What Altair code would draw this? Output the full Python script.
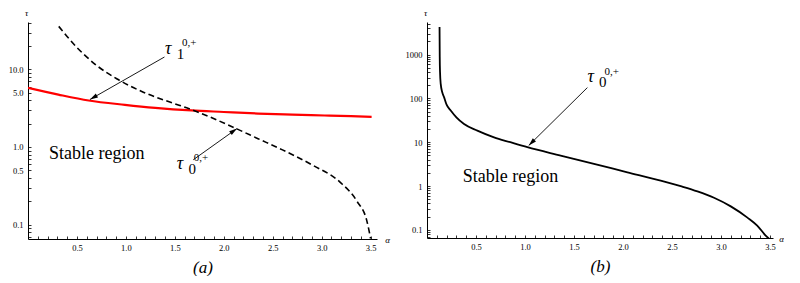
import math
import altair as alt
import pandas as pd

FONT = "Times New Roman, Liberation Serif, DejaVu Serif, serif"

# ---------------- panel (a) data ----------------
alpha_t1 = [0.0, 0.31, 0.62, 0.99, 1.30, 1.67, 2.00, 2.35, 2.70, 3.03, 3.30, 3.51]
tau_t1 = [5.8, 4.75, 3.98, 3.5, 3.2, 2.96, 2.83, 2.7, 2.62, 2.55, 2.5, 2.45]

alpha_t0a = [0.314, 0.497, 0.70, 0.906, 1.178, 1.484, 1.62, 1.72, 2.13, 2.35, 2.574, 2.91, 3.19, 3.36, 3.46, 3.50]
tau_t0a = [36, 19.4, 11.3, 7.6, 5.1, 3.67, 3.2, 2.87, 1.72, 1.28, 0.95, 0.58, 0.35, 0.20, 0.113, 0.066]

# ---------------- panel (b) data ----------------
alpha_t0b = [0.128, 0.130, 0.133, 0.140, 0.155, 0.174, 0.200, 0.242, 0.300, 0.378, 0.514, 0.684,
             0.850, 1.024, 1.364, 1.704, 2.045, 2.385, 2.589, 2.760, 2.929, 3.100, 3.270, 3.370,
             3.456, 3.500]
tau_t0b = [4300, 900, 400, 215, 140, 107, 72, 53, 37, 26, 18.4, 12.9,
           10.0, 7.7, 4.95, 3.2, 2.06, 1.33, 0.99, 0.753, 0.54, 0.343, 0.19, 0.125,
           0.074, 0.06]

# ---------------- ticks ----------------
x_label_vals = [0.5, 1.0, 1.5, 2.0, 2.5, 3.0, 3.5]
x_tick_vals = [0.1, 0.2, 0.3, 0.4, 0.5, 0.6, 0.7, 0.8, 0.9, 1.0, 1.1, 1.2, 1.3, 1.4, 1.5, 1.6, 1.7,
               1.8, 1.9, 2.0, 2.1, 2.2, 2.3, 2.4, 2.5, 2.6, 2.7, 2.8, 2.9, 3.0, 3.1, 3.2, 3.3, 3.4, 3.5]
ya_label_vals = [0.1, 0.5, 1.0, 5.0, 10.0]
yb_label_vals = [0.1, 1, 10, 100, 1000]
y_minor_base = [0.07, 0.08, 0.09, 0.1, 0.2, 0.3, 0.4, 0.5, 0.6, 0.7, 0.8, 0.9,
                1, 2, 3, 4, 5, 6, 7, 8, 9, 10, 20, 30, 40, 50, 60, 70, 80, 90,
                100, 200, 300, 400, 500, 600, 700, 800, 900,
                1000, 2000, 3000, 4000, 5000]

# ---------------- annotations ----------------
arr_a = dict(a0=[1.394, 1.688], t0=[14.5, 0.684], a1=[0.633, 2.135], t1=[4.1, 1.73])
lab_a = dict(a=[1.399, 1.519], t=[15.9, 0.524], sub=["1", "0"], sup=["0,+", "0,+"])
stab_a = dict(a=[0.215], t=[0.705], txt=["Stable region"])

arr_b = dict(a0=[1.637], t0=[177.0], a1=[1.038], t1=[8.4])
lab_b = dict(a=[1.637], t=[233.0], sub=["0"], sup=["0,+"])
stab_b = dict(a=[0.364], t=[1.215], txt=["Stable region"])

ARROW = "M0,0L-0.28,1L0.28,1Z"


def panel(lines, arrows, labels, stable, xmax, tmin, tmax, W, H,
          ylabels, yfmt, title, alpha_dx):
    xs = alt.Scale(domain=[0, xmax], nice=False, zero=False)
    ys = alt.Scale(type="log", domain=[tmin, tmax], nice=False)
    yminor = [v for v in y_minor_base if tmin <= v <= tmax]

    main_x = alt.Axis(orient="bottom", values=x_label_vals, format=".1f", ticks=False,
                      domain=True, domainColor="black", domainWidth=1, grid=False,
                      labelFont=FONT, labelFontSize=8.5, labelColor="black", labelPadding=4,
                      title=title, titleFont=FONT, titleFontSize=17, titleFontStyle="italic",
                      titleFontWeight="normal", titleColor="black", titlePadding=8)
    main_y = alt.Axis(orient="left", values=ylabels, format=yfmt, ticks=False,
                      domain=True, domainColor="black", domainWidth=1, grid=False,
                      labelFont=FONT, labelFontSize=8.5, labelColor="black", labelPadding=5,
                      title="τ", titleAngle=0, titleX=-2, titleY=-7, titleAlign="center",
                      titleBaseline="alphabetic", titleFont=FONT, titleFontSize=9,
                      titleFontStyle="italic", titleFontWeight="normal", titleColor="black")
    tick_x = alt.Axis(orient="top", offset=-H, values=x_tick_vals, labels=False, domain=False,
                      ticks=True, tickSize=3, tickColor="black", tickWidth=0.8, grid=False,
                      title="α", titleX=W + alpha_dx, titleY=0, titleAngle=0, titleAlign="center",
                      titleBaseline="middle", titleFont=FONT, titleFontSize=9,
                      titleFontStyle="italic", titleFontWeight="normal", titleColor="black")
    tick_y = alt.Axis(orient="right", offset=-W, values=yminor, labels=False, domain=False,
                      ticks=True, tickSize=3, tickColor="black", tickWidth=0.8, grid=False,
                      title=None)

    layers = []
    first = True
    for (al, ta, style) in lines:
        df = pd.DataFrame({"a": al, "t": ta})
        if first:
            xa, ya = main_x, main_y
            first = False
        else:
            xa, ya = None, None
        layers.append(
            alt.Chart(df).mark_line(clip=True, interpolate="monotone", **style).encode(
                x=alt.X("a:Q", scale=xs, axis=xa),
                y=alt.Y("t:Q", scale=ys, axis=ya),
            )
        )

    # arrows
    L = math.log10(tmax) - math.log10(tmin)
    angs = []
    for a0, t0, a1, t1 in zip(arrows["a0"], arrows["t0"], arrows["a1"], arrows["t1"]):
        dx = (a1 - a0) / xmax * W
        dy = -(math.log10(t1) - math.log10(t0)) / L * H
        angs.append(math.degrees(math.atan2(dx, -dy)) % 360)
    adf = pd.DataFrame(arrows)
    adf["ang"] = angs
    layers.append(
        alt.Chart(adf).mark_rule(color="black", strokeWidth=0.9).encode(
            x=alt.X("a0:Q", scale=xs, axis=tick_x),
            y=alt.Y("t0:Q", scale=ys, axis=tick_y),
            x2="a1:Q", y2="t1:Q",
        )
    )
    layers.append(
        alt.Chart(adf).mark_point(shape=ARROW, filled=True, size=256, color="black",
                                  opacity=1, strokeWidth=0).encode(
            x=alt.X("a1:Q", scale=xs, axis=None),
            y=alt.Y("t1:Q", scale=ys, axis=None),
            angle=alt.Angle("ang:Q", scale=None),
        )
    )

    ldf = pd.DataFrame(labels)
    base = alt.Chart(ldf).encode(x=alt.X("a:Q", scale=xs, axis=None),
                                 y=alt.Y("t:Q", scale=ys, axis=None))
    layers.append(base.mark_text(text="τ", font=FONT, fontSize=18, fontStyle="italic",
                                 align="left", baseline="alphabetic", color="black"))
    layers.append(base.mark_text(font=FONT, fontSize=15, align="left", baseline="alphabetic",
                                 color="black", dx=11.7, dy=5).encode(text="sub:N"))
    layers.append(base.mark_text(font=FONT, fontSize=11, align="left", baseline="alphabetic",
                                 color="black", dx=17, dy=-7.5).encode(text="sup:N"))

    sdf = pd.DataFrame(stable)
    layers.append(
        alt.Chart(sdf).mark_text(font=FONT, fontSize=18, align="left", baseline="alphabetic",
                                 color="black").encode(
            x=alt.X("a:Q", scale=xs, axis=None),
            y=alt.Y("t:Q", scale=ys, axis=None),
            text="txt:N",
        )
    )

    return alt.layer(*layers).properties(width=W, height=H).resolve_axis(
        x="independent", y="independent")


pa = panel(
    lines=[(alpha_t1, tau_t1, dict(color="#ff0000", strokeWidth=2.2)),
           (alpha_t0a, tau_t0a, dict(color="black", strokeWidth=1.6, strokeDash=[6, 3.5]))],
    arrows=arr_a, labels=lab_a, stable=stab_a,
    xmax=3.565, tmin=0.065, tmax=41.0, W=349, H=217,
    ylabels=ya_label_vals, yfmt=".1f", title="(a)", alpha_dx=10)

pb = panel(
    lines=[(alpha_t0b, tau_t0b, dict(color="black", strokeWidth=1.8))],
    arrows=arr_b, labels=lab_b, stable=stab_b,
    xmax=3.531, tmin=0.065, tmax=5560.0, W=346, H=216,
    ylabels=yb_label_vals, yfmt="~g", title="(b)", alpha_dx=8)

chart = alt.hconcat(pa, pb, spacing=50, bounds="flush").properties(
    padding={"left": 0, "top": 0, "right": 0, "bottom": 0}
).configure_view(strokeWidth=0)

chart.save("out.html", embed_options={"renderer": "svg", "actions": False})
